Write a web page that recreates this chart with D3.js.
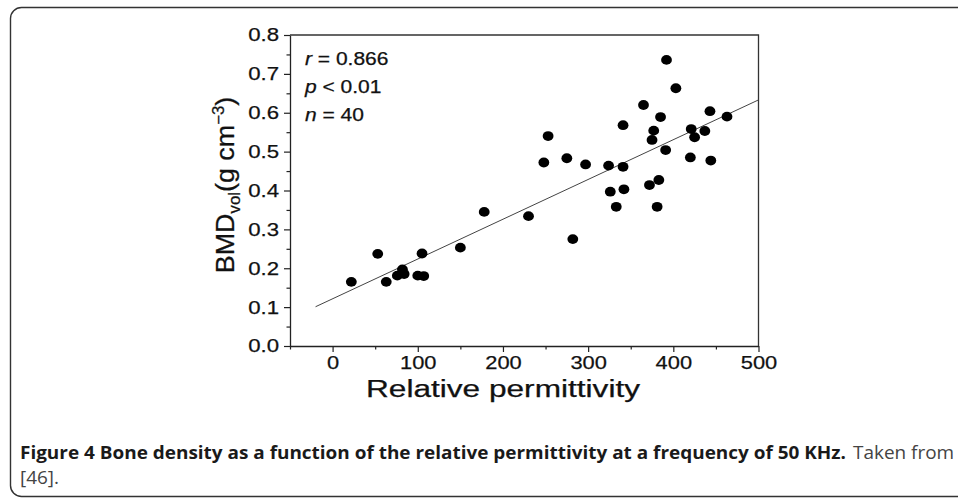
<!DOCTYPE html>
<html>
<head>
<meta charset="utf-8">
<script src="https://cdn.jsdelivr.net/npm/d3@7"></script>
<style>
  body { margin: 0; background: #fff; }
</style>
</head>
<body>
<div id="chart"></div>
<script>
// permittivity (x) and BMD (y) of the 40 samples
const permittivity = [22, 53, 63, 76, 82, 84, 100, 105, 107, 150, 178, 230, 248, 253, 275, 282, 297, 324, 326, 333,
  341, 341, 342, 365, 372, 375, 377, 381, 383, 385, 391, 392, 403, 420, 421, 425, 437, 443, 444, 463];
const bmd = [0.165, 0.237, 0.165, 0.181, 0.197, 0.185, 0.181, 0.238, 0.180, 0.253, 0.345, 0.334, 0.472, 0.540, 0.483, 0.275, 0.467, 0.464, 0.397, 0.358,
  0.568, 0.461, 0.403, 0.620, 0.414, 0.530, 0.554, 0.358, 0.427, 0.589, 0.504, 0.736, 0.663, 0.485, 0.558, 0.537, 0.553, 0.604, 0.477, 0.590];

// end points of the fitted line
const fitX = [-20, 500];
const fitY = [0.101, 0.633];

const xTicks = [0, 100, 200, 300, 400, 500];
const xMinor = [-50, 50, 150, 250, 350, 450];
const yTicks = [0, 0.1, 0.2, 0.3, 0.4, 0.5, 0.6, 0.7, 0.8];
const yMinor = [0.05, 0.15, 0.25, 0.35, 0.45, 0.55, 0.65, 0.75];

const stats = [["r", " = 0.866"], ["p", " < 0.01"], ["n", " = 40"]];

const W = 958, H = 501;
const margin = {top: 35, left: 290};
const width = 468.5, height = 311;

const svg = d3.select("#chart").append("svg")
  .attr("width", W).attr("height", H);

// rounded panel
svg.append("rect")
  .attr("x", 10.5).attr("y", 7.5)
  .attr("width", 980).attr("height", 489)
  .attr("rx", 11)
  .attr("fill", "none")
  .attr("stroke", "#333")
  .attr("stroke-width", 1.4);

// the figure was stretched sideways, so widen text to the measured size
const stretch = (sel, k) => sel.each(function() {
  const w = this.getComputedTextLength();
  d3.select(this).attr("textLength", w * k).attr("lengthAdjust", "spacingAndGlyphs");
});

const g = svg.append("g")
  .attr("transform", "translate(" + margin.left + "," + margin.top + ")");

const x = d3.scaleLinear().domain([-50, 500]).range([0, width]);
const y = d3.scaleLinear().domain([0, 0.8]).range([height, 0]);

const axisFont = "Liberation Sans, Arial, sans-serif";
const ink = (sel, size) => sel
  .attr("font-size", size)
  .attr("font-family", axisFont)
  .attr("fill", "#111")
  .attr("stroke", "#111")
  .attr("stroke-width", 0.25);

// minor ticks
g.append("g")
  .attr("transform", "translate(0," + height + ")")
  .call(d3.axisBottom(x).tickValues(xMinor).tickSize(3.5).tickFormat(""))
  .call(a => a.select(".domain").remove());
g.append("g")
  .call(d3.axisLeft(y).tickValues(yMinor).tickSize(3.5).tickFormat(""))
  .call(a => a.select(".domain").remove());

// x axis
const xAxis = g.append("g")
  .attr("transform", "translate(0," + height + ")")
  .call(d3.axisBottom(x).tickValues(xTicks).tickSize(6).tickSizeOuter(0).tickPadding(4).tickFormat(d3.format("d")));
ink(xAxis.selectAll("text"), 19);

// y axis
const yAxis = g.append("g")
  .call(d3.axisLeft(y).tickValues(yTicks).tickSize(6).tickSizeOuter(0).tickPadding(5).tickFormat(d3.format(".1f")));
ink(yAxis.selectAll("text"), 18.5);

g.selectAll(".tick line").attr("stroke", "#222").attr("stroke-width", 1.2);
g.selectAll(".domain").attr("stroke", "#222").attr("stroke-width", 1.3);

stretch(xAxis.selectAll("text"), 1.15);
stretch(yAxis.selectAll("text"), 1.2);

// top and right frame
g.append("path")
  .attr("d", "M0,0H" + width + "V" + height)
  .attr("fill", "none")
  .attr("stroke", "#333")
  .attr("stroke-width", 1.3);

// fitted line
g.append("line")
  .attr("x1", x(fitX[0])).attr("y1", y(fitY[0]))
  .attr("x2", x(fitX[1])).attr("y2", y(fitY[1]))
  .attr("stroke", "#444")
  .attr("stroke-width", 1);

// dots
g.append("g")
  .selectAll("ellipse")
  .data(permittivity.map((p, i) => ({p: p, b: bmd[i]})))
  .enter()
  .append("ellipse")
  .attr("cx", d => x(d.p))
  .attr("cy", d => y(d.b))
  .attr("rx", 5.4)
  .attr("ry", 4.9)
  .attr("fill", "#000");

// r, p, n
const statText = g.append("g")
  .selectAll("text")
  .data(stats)
  .enter()
  .append("text")
  .attr("x", 15)
  .attr("y", (d, i) => 30 + i * 28);
ink(statText, 17.5);
statText.append("tspan").attr("font-style", "italic").text(d => d[0]);
statText.append("tspan").text(d => d[1]);
stretch(statText, 1.2);

// axis titles
const xTitle = svg.append("text")
  .attr("x", 503)
  .attr("y", 397)
  .attr("text-anchor", "middle")
  .text("Relative permittivity");
ink(xTitle, 23);
xTitle.attr("textLength", 274).attr("lengthAdjust", "spacingAndGlyphs");

const yTitle = svg.append("text")
  .attr("transform", "translate(234,185) rotate(-90) scale(1.12,1.05)")
  .attr("text-anchor", "middle");
ink(yTitle, 24);
yTitle.append("tspan").text("BMD");
yTitle.append("tspan").attr("font-size", 15).attr("dy", 6).text("vol");
yTitle.append("tspan").attr("dy", -6).text("(g cm");
yTitle.append("tspan").attr("font-size", 15).attr("dy", -10).text("\u22123");
yTitle.append("tspan").attr("dy", 10).text(")");

// caption
const capFont = "Open Sans, Noto Sans, sans-serif";
const cap1 = svg.append("text")
  .attr("x", 20).attr("y", 459)
  .attr("font-size", 18)
  .attr("font-family", capFont)
  .attr("font-weight", "bold")
  .attr("fill", "#1a1a1a")
  .text("Figure 4 Bone density as a function of the relative permittivity at a frequency of 50 KHz.");
const natural = cap1.node().getComputedTextLength();
const capK = 826 / natural;
stretch(cap1, capK);

const cap2 = svg.append("text")
  .attr("x", 853).attr("y", 459)
  .attr("font-size", 18)
  .attr("font-family", capFont)
  .attr("fill", "#444")
  .text("Taken from");
stretch(cap2, capK);

const cap3 = svg.append("text")
  .attr("x", 20).attr("y", 484)
  .attr("font-size", 18)
  .attr("font-family", capFont)
  .attr("fill", "#444")
  .text("[46].");
stretch(cap3, capK);
</script>
</body>
</html>
